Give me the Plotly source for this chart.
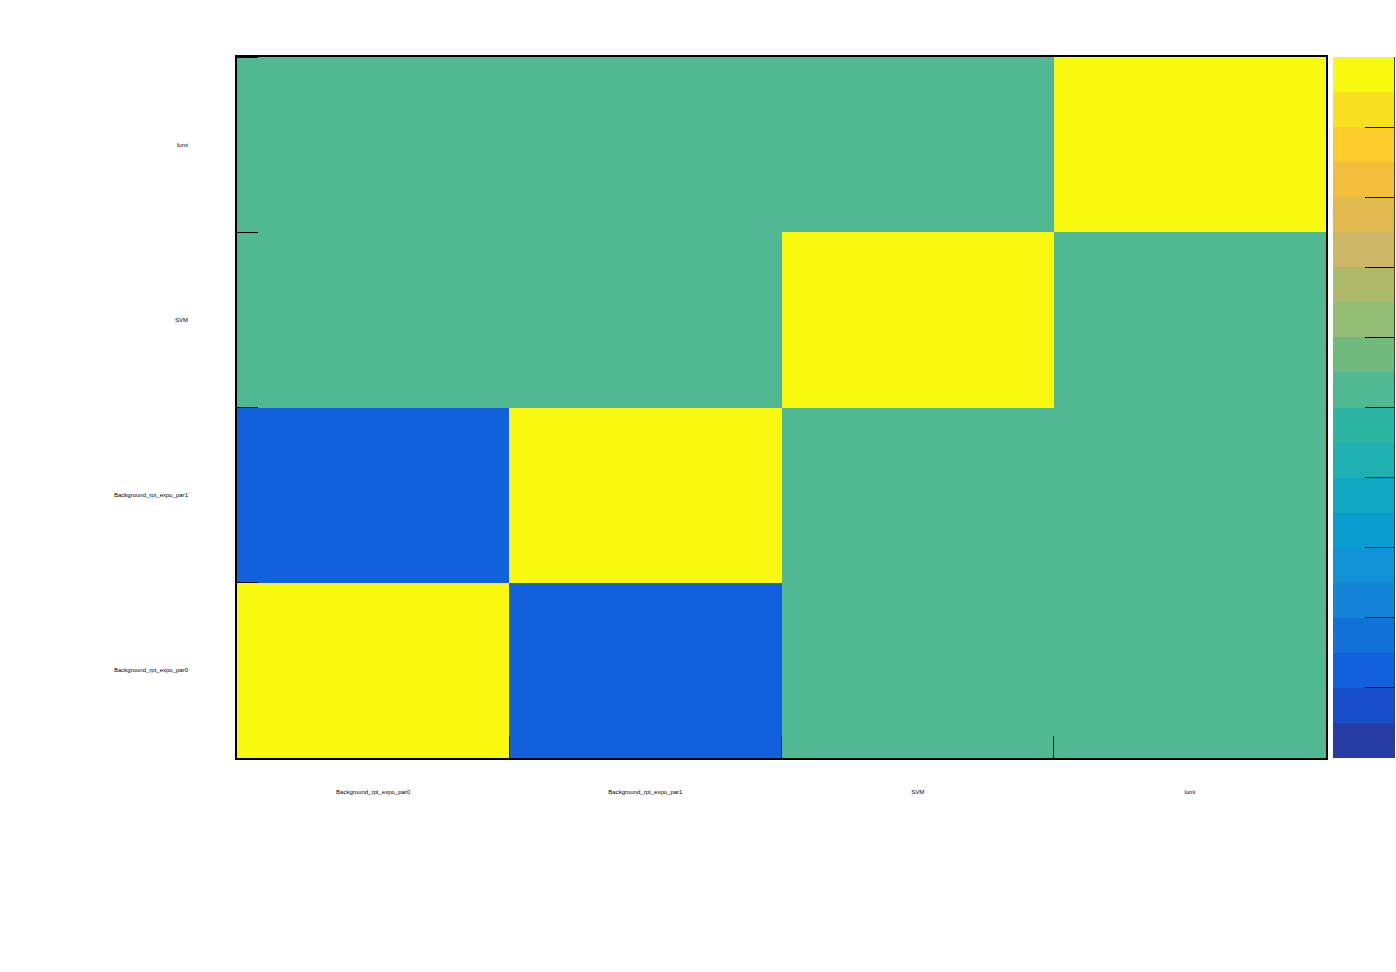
import plotly.graph_objects as go

# ---- data ----
params = ["Background_rpt_expo_par0", "Background_rpt_expo_par1", "SVM", "lumi"]
row_par0 = [1.0, -0.76, 0.0, 0.0]
row_par1 = [-0.76, 1.0, 0.0, 0.0]
row_svm = [0.0, 0.0, 1.0, 0.0]
row_lumi = [0.0, 0.0, 0.0, 1.0]
z_rows = [row_par0, row_par1, row_svm, row_lumi]

# 20-level palette (bottom -> top)
palette = ["#273BA5", "#184DC9", "#1161DC", "#1372DA", "#1484D7", "#1191D6", "#089ECF",
           "#0EA8C2", "#1EB0B3", "#2DB5A3", "#50B993", "#70BA7E", "#94BE76", "#AEBA6A",
           "#CDB665", "#E2B94C", "#F3BE3C", "#FCCD2C", "#F8E020", "#F9F90F"]
zmin, zmax = -1.0, 1.0
cbar_ticks = [-1.0, -0.8, -0.6, -0.4, -0.2, 0.0, 0.2, 0.4, 0.6, 0.8, 1.0]

# ---- layout geometry ----
W, H = 1396, 972
L, R, T, B = 237, 1326, 57, 758

n = len(palette)
cs = []
for k, c in enumerate(palette):
    cs.append([k / n, c])
    cs.append([(k + 1) / n - 1e-9 if k < n - 1 else 1.0, c])

xs = list(range(len(params)))

fig = go.Figure(go.Heatmap(
    z=z_rows, x=xs, y=xs, zmin=zmin, zmax=zmax, colorscale=cs,
    hoverongaps=False,
    colorbar=dict(
        xref="container", x=1333 / W, xanchor="left",
        yref="paper", y=0, yanchor="bottom", len=1, lenmode="fraction",
        thickness=61, thicknessmode="pixels", xpad=0, ypad=0,
        outlinewidth=0,
        tickmode="array", tickvals=cbar_ticks,
        ticks="inside", ticklen=29, tickcolor="black", tickwidth=1,
        showticklabels=False,
    ),
))

font = dict(family="Liberation Sans, Arial, sans-serif", size=6, color="black")

fig.update_layout(
    width=W, height=H,
    margin=dict(l=L, r=W - R, t=T, b=H - B, autoexpand=False),
    paper_bgcolor="white", plot_bgcolor="white",
    showlegend=False,
    xaxis=dict(
        range=[-0.5, 3.5], tickmode="array", tickvals=xs, ticktext=params,
        ticks="", tickfont=font, ticklabelstandoff=27,
        showline=True, mirror=True, linecolor="black", linewidth=1.5,
        showgrid=False, zeroline=False,
        minor=dict(tickmode="array", tickvals=[0.5, 1.5, 2.5], ticks="inside",
                   ticklen=22, tickcolor="black", tickwidth=1, showgrid=False),
    ),
    yaxis=dict(
        range=[-0.5, 3.5], tickmode="array", tickvals=xs, ticktext=params,
        ticks="", tickfont=font, ticklabelstandoff=46,
        showline=True, mirror=True, linecolor="black", linewidth=1.5,
        showgrid=False, zeroline=False,
        minor=dict(tickmode="array", tickvals=[0.5, 1.5, 2.5, 3.5], ticks="inside",
                   ticklen=21, tickcolor="black", tickwidth=1, showgrid=False),
    ),
    shapes=[dict(type="line", xref="paper", yref="paper",
                 x0=(1394 - L) / (R - L), x1=(1394 - L) / (R - L), y0=0, y1=1,
                 line=dict(color="black", width=1.5))],
)

fig.write_html("out.html")
